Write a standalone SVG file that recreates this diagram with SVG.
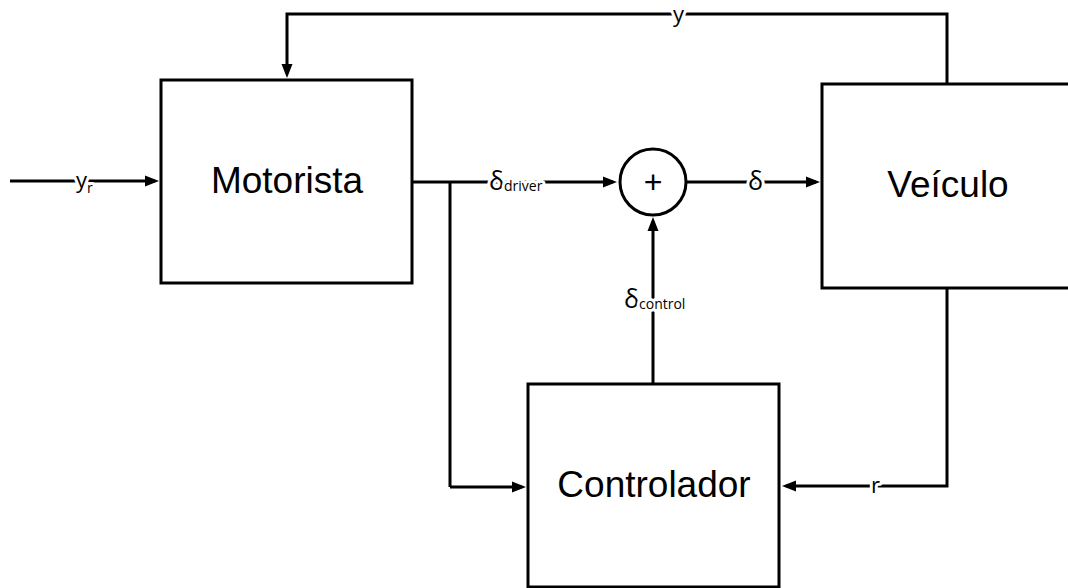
<svg xmlns="http://www.w3.org/2000/svg" width="1068" height="588" viewBox="0 0 1068 588">
<style>
.box{fill:#fff;stroke:#000;stroke-width:3}
.line{fill:none;stroke:#000;stroke-width:3;marker-end:url(#arr)}
.plain{fill:none;stroke:#000;stroke-width:3}
.big{font-family:"Liberation Sans",Arial,sans-serif;font-size:37px;fill:#000;text-anchor:middle}
.lbl{font-family:"Open Sans","Noto Sans",sans-serif;font-size:22px;fill:#000;stroke:#fff;stroke-width:6;paint-order:stroke;stroke-linejoin:round}
.d{font-size:25px}
.sub{font-size:14px}
</style>
<defs>
<marker id="arr" markerUnits="userSpaceOnUse" markerWidth="16" markerHeight="14" refX="10" refY="7" orient="auto">
<path d="M0,1.5 L14,7 L0,12.5 z" fill="#000"/>
</marker>
</defs>
<rect width="1068" height="588" fill="#fff"/>
<g id="connectors">
<path class="line" d="M10,181 H155"/>
<path class="line" d="M412,182 H613"/>
<path class="plain" d="M450,182 V487"/>
<path class="line" d="M450,487 H522"/>
<path class="line" d="M686,182 H816"/>
<path class="line" d="M653,384 V221"/>
<path class="line" d="M947,288 V486 H786"/>
<path class="line" d="M947,84 V14 H287 V74"/>
<text class="lbl" x="76" y="188">y<tspan class="sub" dy="5">r</tspan></text>
<text class="lbl" x="489" y="190"><tspan class="d">δ</tspan><tspan class="sub" dy="1">driver</tspan></text>
<text class="lbl" x="748" y="190"><tspan class="d">δ</tspan></text>
<text class="lbl" x="624" y="308"><tspan class="d">δ</tspan><tspan class="sub" dy="1">control</tspan></text>
<text class="lbl" x="673" y="22">y</text>
<text class="lbl" x="871" y="493">r</text>
</g>
<g id="motorista">
<rect class="box" x="161" y="80" width="251" height="203"/>
<text class="big" x="287" y="193">Motorista</text>
</g>
<g id="soma">
<circle class="box" cx="653" cy="182" r="33"/>
<text class="big" x="653" y="193" style="font-size:32px">+</text>
</g>
<g id="veiculo">
<rect class="box" x="822" y="84" width="252" height="204"/>
<text class="big" x="948" y="197">Veículo</text>
</g>
<g id="controlador">
<rect class="box" x="528" y="384" width="251" height="203"/>
<text class="big" x="654" y="497">Controlador</text>
</g>
</svg>
